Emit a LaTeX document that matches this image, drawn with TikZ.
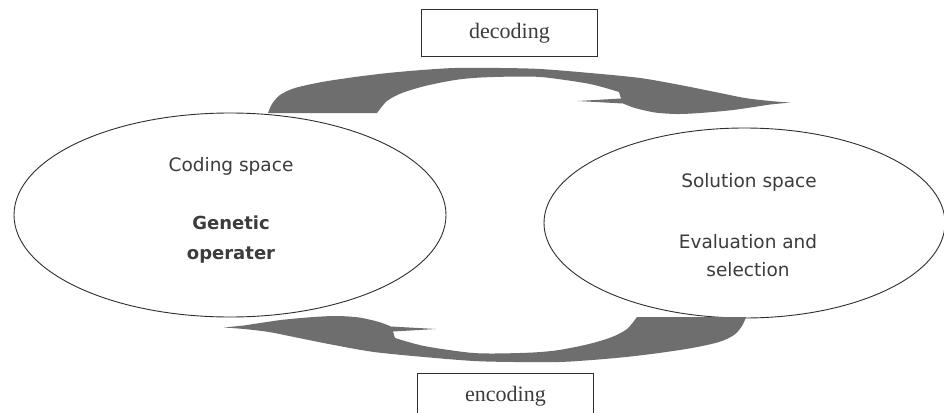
\documentclass[tikz,border=0pt]{standalone}
\usepackage{fontspec}
\setmainfont{Liberation Serif}
\newfontfamily\spacefont{DejaVu Sans}
\usetikzlibrary{shapes.geometric}

\definecolor{bandgray}{HTML}{6E6E6E}
\definecolor{edgegray}{HTML}{2E2E2E}
\definecolor{inkgray}{HTML}{3C3C3C}

% Curved block arrow: flat tail on the left, barbed head pointing right
\def\bandarrow{%
  plot[smooth] coordinates {(268,113) (272,104) (280,95) (295,88) (322,82)
    (355,77) (388,73) (422,70) (455,68) (500,68) (540,69) (590,73) (640,78)
    (680,85) (720,93) (745,98) (770,101) (790,102.5)}
  -- plot[smooth] coordinates {(770,104.5) (733,110) (700,113) (677,114)
    (655,112.5) (635,108) (623,103.5)}
  -- (578,101) -- (621,98.5)
  -- plot[smooth] coordinates {(619,92) (590,84) (546,77.5) (520,76.5)
    (481,77.5) (455,80) (425,86) (402,93) (387,101) (377,113)}
  -- cycle}

\begin{document}
\begin{tikzpicture}[x=1pt,y=-1pt,
  spaceshape/.style={ellipse, draw=edgegray, line width=0.9pt, inner sep=0pt},
  spacetext/.style={text=inkgray, font=\spacefont\fontsize{18.5}{22}\selectfont, align=center},
  boldtext/.style={text=inkgray, font=\spacefont\bfseries\fontsize{18}{30}\selectfont, align=center},
  maptext/.style={draw=edgegray, line width=1pt, text=inkgray,
    font=\fontsize{22}{26}\selectfont, minimum width=176pt, minimum height=47pt, inner sep=0pt},
  band/.style={fill=bandgray}]
\useasboundingbox (0,0) rectangle (944,412);
\clip (0,0) rectangle (944,412);
\fill[white] (0,0) rectangle (944,412);

% the two spaces
\node[spaceshape, minimum width=432pt, minimum height=204pt] (coding) at (230,215) {};
\node[spaceshape, minimum width=401pt, minimum height=190pt] (solution) at (744.5,223) {};

\node[spacetext] (codinglabel) at (231,166) {Coding space};
\node[boldtext] (genetic) at (231,240) {Genetic\\operater};
\node[spacetext] (solutionlabel) at (749,182) {Solution space};
\node[spacetext, font=\spacefont\fontsize{18.5}{28}\selectfont] (evaluation) at (748,256) {Evaluation and\\selection};

% mapping labels
\node[maptext] (decoding) at (509.5,33.5) {decoding};
\node[maptext] (encoding) at (505.5,396.5) {encoding};

% curved block arrows between the spaces
\fill[band] \bandarrow;
\fill[band, rotate around={180:(507,215)}] \bandarrow;
\end{tikzpicture}
\end{document}
